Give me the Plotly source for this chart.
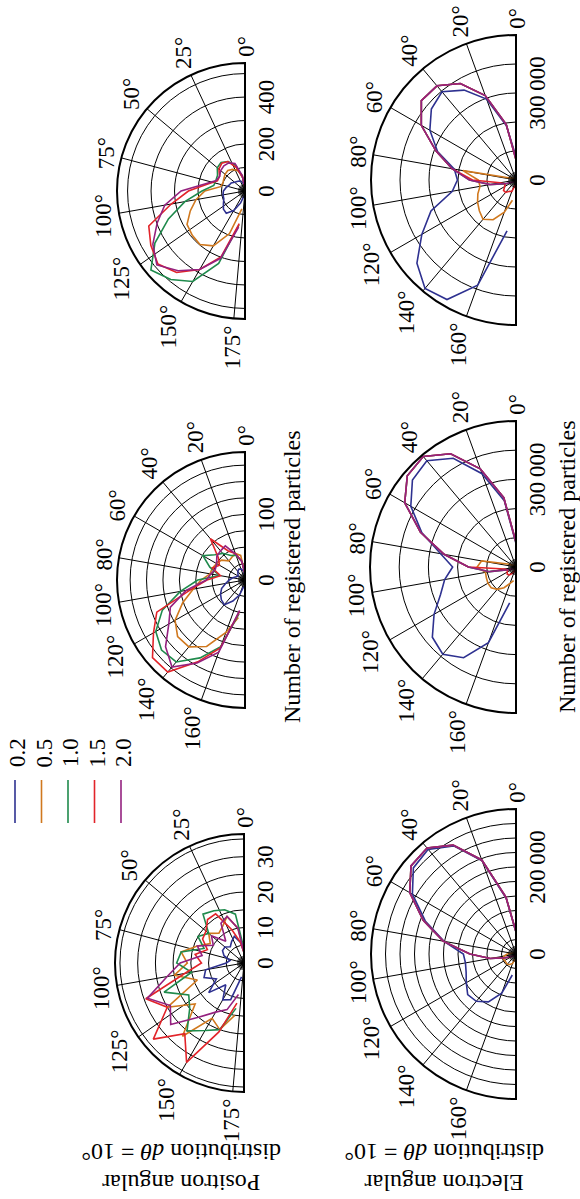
import math
import plotly.graph_objects as go

W, H = 580, 1199
FONT = "Liberation Serif"

# angular bins (degrees), dθ = 10°
THETA = list(range(0, 180, 10))
SERIES = ["0.2", "0.5", "1.0", "1.5", "2.0"]
COLORS = ["#2e3190", "#d0781e", "#1f8a4c", "#e2242a", "#94217f"]

# ---- positron angular distributions ----
pos_a_02 = [10, 29, 43, 49, 53, 58, 68, 72, 82, 92, 95, 96, 106, 120, 124, 96, 54, 19]
pos_a_05 = [14, 67, 93, 106, 114, 111, 104, 100, 106, 171, 212, 248, 285, 293, 298, 270, 193, 77]
pos_a_10 = [10, 58, 116, 145, 159, 154, 135, 132, 135, 183, 260, 347, 443, 523, 492, 445, 328, 147]
pos_a_15 = [10, 58, 106, 145, 154, 145, 125, 125, 164, 241, 319, 436, 463, 484, 453, 386, 299, 141]
pos_a_20 = [10, 67, 125, 138, 140, 135, 125, 130, 174, 272, 347, 398, 453, 490, 443, 386, 305, 156]

pos_b_02 = [5, 14, 18, 19, 17, 14, 12, 14, 19, 24, 30, 38, 43, 47, 49, 37, 24, 10]
pos_b_05 = [10, 38, 43, 40, 38, 47, 50, 53, 54, 67, 80, 101, 123, 134, 133, 117, 85, 58]
pos_b_10 = [10, 29, 40, 43, 53, 60, 74, 57, 39, 72, 100, 134, 157, 166, 163, 137, 108, 52]
pos_b_15 = [10, 29, 43, 51, 82, 53, 45, 53, 38, 58, 84, 143, 161, 184, 183, 144, 110, 49]
pos_b_20 = [10, 29, 42, 60, 58, 56, 50, 48, 53, 59, 91, 121, 134, 158, 173, 146, 117, 47]

pos_c_02 = [3, 6, 8, 7, 6, 7, 7, 6, 4, 5, 11, 12, 9, 13, 8, 12, 11, 4]
pos_c_05 = [3, 10, 14, 12, 11, 13, 11, 14, 18, 16, 20, 14, 25, 18, 27, 18, 20, 15]
pos_c_10 = [4, 14, 16, 17, 18, 13, 15, 12, 18, 19, 15, 24, 18, 20, 25, 22, 20, 13]
pos_c_15 = [3, 6, 10, 16, 16, 14, 13.5, 11, 14, 12, 17, 29.5, 25, 33.4, 26, 32.4, 20.7, 11.5]
pos_c_20 = [3, 10, 14, 13, 8, 12, 10, 14, 12, 18, 22, 29, 24, 27, 20, 16, 14, 9]

# ---- electron angular distributions ----
ele_a_02 = [80000, 190000, 297000, 358000, 397000, 381000, 343000, 288000, 216000,
            202000, 223000, 312000, 375000, 446000, 488000, 476000, 386000, 178000]
ele_a_05 = [2000, 3000, 4000, 5000, 6000, 8000, 10000, 20000, 186000,
            130000, 126000, 140000, 153000, 165000, 177000, 158000, 118000, 71000]
ele_a_10 = [70000, 195000, 310000, 384000, 424000, 426000, 377000, 294000, 224000,
            160000, 90000, 40000, 15000, 8000, 5000, 3000, 2000, 1000]
ele_a_15 = [70000, 195000, 310000, 384000, 424000, 426000, 377000, 294000, 224000,
            150000, 56000, 40000, 45000, 56000, 56000, 45000, 42000, 20000]
ele_a_20 = [70000, 195000, 310000, 384000, 424000, 426000, 377000, 294000, 224000,
            161000, 91000, 35000, 15000, 8000, 5000, 3000, 2000, 1000]

ele_b_02 = [80000, 230000, 340000, 430000, 475000, 463000, 416000, 343000, 262000,
            217000, 248000, 275000, 324000, 374000, 390000, 359000, 276000, 125000]
ele_b_05 = [2000, 3000, 4000, 5000, 6000, 8000, 12000, 30000, 120000,
            133000, 106000, 108000, 111000, 111000, 100000, 82000, 60000, 47000]
ele_b_10 = [85000, 241000, 358000, 448000, 494000, 486000, 440000, 348000, 250000,
            163000, 92000, 27000, 10000, 6000, 4000, 3000, 2000, 1000]
ele_b_15 = [85000, 241000, 358000, 448000, 494000, 486000, 440000, 348000, 250000,
            163000, 40000, 30000, 35000, 39000, 35000, 25000, 15000, 8000]
ele_b_20 = [85000, 241000, 358000, 448000, 494000, 486000, 440000, 348000, 250000,
            163000, 92000, 27000, 10000, 6000, 4000, 3000, 2000, 1000]

ele_c_02 = [50000, 130000, 228000, 287000, 314000, 308000, 275000, 222000, 168000,
            121000, 118000, 122000, 132000, 145000, 142000, 127000, 96000, 49000]
ele_c_05 = [1000, 1500, 2000, 2500, 3000, 3500, 4000, 6000, 10000,
            20000, 28000, 32000, 30000, 30000, 31000, 28000, 23000, 12000]
ele_c_10 = [51000, 133000, 230000, 289000, 318000, 315000, 282000, 227000, 170000,
            106000, 60000, 25000, 10000, 6000, 4000, 3000, 2000, 1000]
ele_c_15 = [51000, 133000, 230000, 289000, 318000, 315000, 282000, 227000, 170000,
            106000, 60000, 25000, 10000, 6000, 4000, 3000, 2000, 1000]
ele_c_20 = [51000, 133000, 230000, 289000, 318000, 315000, 282000, 227000, 170000,
            106000, 60000, 25000, 10000, 6000, 4000, 3000, 2000, 1000]

# angular tick values of each panel
ANG_25 = list(range(0, 180, 25))
ANG_20 = list(range(0, 180, 20))

panels = [
    dict(series=[pos_a_02, pos_a_05, pos_a_10, pos_a_15, pos_a_20], rmax=545, step=100,
         labels={0: "0", 200: "200", 400: "400"}, ang=ANG_25, geom=(245, 191, 128)),
    dict(series=[pos_b_02, pos_b_05, pos_b_10, pos_b_15, pos_b_20], rmax=195, step=25,
         labels={0: "0", 100: "100"}, ang=ANG_20, geom=(245, 580, 128)),
    dict(series=[pos_c_02, pos_c_05, pos_c_10, pos_c_15, pos_c_20], rmax=36.4, step=5,
         labels={0: "0", 10: "10", 20: "20", 30: "30"}, ang=ANG_25, geom=(244, 963, 129)),
    dict(series=[ele_a_02, ele_a_05, ele_a_10, ele_a_15, ele_a_20], rmax=500000, step=100000,
         labels={0: "0", 300000: "300\u2009000"}, ang=ANG_20, geom=(516, 180, 145)),
    dict(series=[ele_b_02, ele_b_05, ele_b_10, ele_b_15, ele_b_20], rmax=500000, step=100000,
         labels={0: "0", 300000: "300\u2009000"}, ang=ANG_20, geom=(516, 567, 146)),
    dict(series=[ele_c_02, ele_c_05, ele_c_10, ele_c_15, ele_c_20], rmax=333334, step=200000 / 6,
         labels={0: "0", 200000: "200\u2009000"}, ang=ANG_20, geom=(516, 954, 145)),
]

TICK_FS = 23
tickfont = dict(family=FONT, size=TICK_FS, color="black")
fig = go.Figure()
annotations, shapes = [], []

for k, pan in enumerate(panels):
    sub = "polar" if k == 0 else f"polar{k + 1}"
    rmax = pan["rmax"]
    for name, color, r in zip(SERIES, COLORS, pan["series"]):
        fig.add_trace(go.Scatterpolar(r=r, theta=THETA, mode="lines", name=name,
                                      line=dict(color=color, width=1.6),
                                      subplot=sub, showlegend=False))
    # lower half of the diameter
    fig.add_trace(go.Scatterpolar(r=[0, rmax], theta=[180, 180], mode="lines",
                                  line=dict(color="black", width=2), subplot=sub,
                                  showlegend=False, hoverinfo="skip"))
    # short spokes around the pole
    hub_r, hub_t = [], []
    for a in range(0, 181, 10):
        hub_r += [0, 0.055 * rmax, None]
        hub_t += [a, a, None]
    fig.add_trace(go.Scatterpolar(r=hub_r, theta=hub_t, mode="lines",
                                  line=dict(color="black", width=0.8), subplot=sub,
                                  showlegend=False, hoverinfo="skip"))

    cx, cy, R = pan["geom"]
    n = int(round(rmax / pan["step"] + 1e-6))
    rvals = [i * pan["step"] for i in range(n + 1) if i * pan["step"] <= rmax + 1e-6]
    rtext = []
    for v in rvals:
        key = min(pan["labels"], key=lambda L: abs(L - v))
        rtext.append(pan["labels"][key] if abs(key - v) < 1e-3 * rmax else "")
    fig.update_layout(**{sub: dict(
        domain=dict(x=[(cx - R) / W, cx / W], y=[1 - (cy + R) / H, 1 - (cy - R) / H]),
        sector=[90, 270],
        bgcolor="rgba(0,0,0,0)",
        angularaxis=dict(rotation=90, direction="counterclockwise", tickmode="array",
                         tickvals=pan["ang"] + [180], showticklabels=False,
                         showline=True, linecolor="black", linewidth=2,
                         showgrid=True, gridcolor="black", gridwidth=1, ticks=""),
        radialaxis=dict(range=[0, rmax], angle=90, side="clockwise",
                        tickmode="array", tickvals=rvals, ticktext=rtext,
                        showline=True, linecolor="black", linewidth=2,
                        showgrid=True, gridcolor="black", gridwidth=1,
                        ticks="", tickfont=tickfont),
    )})

    # angular labels, set upright along the rim (text reads bottom-to-top)
    for a in pan["ang"]:
        txt = f"{a}°"
        length = TICK_FS * (0.5 * len(str(a)) + 0.4)
        th = math.radians(a)
        s, c = math.sin(th), math.cos(th)
        rr = R + 6 + abs(s) * 8 + abs(c) * length / 2
        annotations.append(dict(text=txt, xref="paper", yref="paper",
                                x=(cx - rr * s + 2) / W, y=1 - (cy - rr * c) / H,
                                xanchor="center", yanchor="middle", showarrow=False,
                                textangle=-90, font=tickfont))

# legend drawn as short vertical strokes with rotated labels
for i, (name, color) in enumerate(zip(SERIES, COLORS)):
    x = (15 + 26.5 * i) / W
    shapes.append(dict(type="line", xref="paper", yref="paper", x0=x, x1=x,
                       y0=1 - 823 / H, y1=1 - 780 / H, line=dict(color=color, width=1.6)))
    annotations.append(dict(text=name, xref="paper", yref="paper", x=x + 2 / W, y=1 - 753 / H,
                            xanchor="center", yanchor="middle", showarrow=False,
                            textangle=-90, font=tickfont))

titlefont = dict(family=FONT, size=24, color="black")
for x, y in [(292, 577), (567, 567)]:
    annotations.append(dict(text="Number of registered particles", xref="paper", yref="paper",
                            x=x / W, y=1 - y / H, xanchor="center", yanchor="middle",
                            showarrow=False, textangle=-90, font=titlefont))
for x, label in [(181, "Positron"), (444, "Electron")]:
    annotations.append(dict(text=f"{label} angular<br>distribution <i>dθ</i> = 10°",
                            xref="paper", yref="paper", x=x / W, y=1 - 1168 / H,
                            xanchor="center", yanchor="middle",
                            showarrow=False, textangle=180, font=titlefont))

fig.update_layout(width=W, height=H, margin=dict(l=0, r=0, t=0, b=0),
                  paper_bgcolor="white", plot_bgcolor="white",
                  shapes=shapes, annotations=annotations, showlegend=False)
fig.write_html("out.html")
